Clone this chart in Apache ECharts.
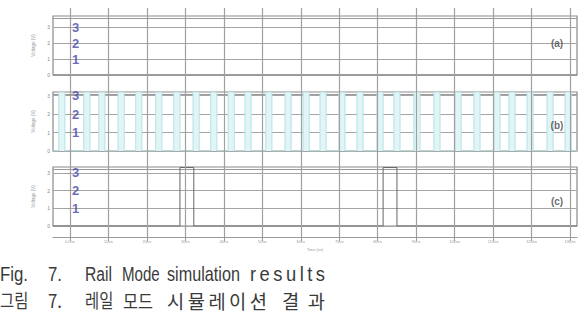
<!DOCTYPE html>
<html><head><meta charset="utf-8">
<script src="https://cdn.jsdelivr.net/npm/echarts@6/dist/echarts.min.js"></script>
<style>html,body{margin:0;padding:0;background:#fff}#c{width:583px;height:323px}</style>
</head><body><div id="c"></div>
<script>
// ---- data ----
const timeTicks = [0,10,20,30,40,50,60,70,80,90,100,110,120,130];
const timeTickLabels = ['0.0ns','10ns','20ns','30ns','40ns','50ns','60ns','70ns','80ns','90ns','100ns','110ns','120ns','130ns'];
const timeMin = -4.4, timeMax = 131.8;
const voltTicks = [0,1,2,3];
const levelLabels = [3,2,1];
const panelNames = ['(a)','(b)','(c)'];
const panelMax = [3.7, 3.2, 3.33];
const panelNamePos = [2.0, 1.4, 1.37];
// (a) constant low level
const aTimes = [-4.4, 131.8];
const aValues = [0, 0];
// (b) pulse train
const bStarts = [-2.9,3.6,7.5,12.5,17.1,22.3,27.0,32.0,36.6,41.1,45.5,50.9,55.9,60.6,65.0,69.9,74.6,79.8,84.2,89.4,94.6,100.1,105.0,110.2,114.1,118.8,124.0,128.7];
const bEnds   = [-1.3,5.2,9.1,14.1,18.7,23.9,28.6,33.6,38.2,42.7,47.1,52.5,57.5,62.2,66.6,71.5,76.2,81.4,85.8,91.0,96.2,101.7,106.6,111.8,115.7,120.4,125.6,130.3];
const bHigh = 3.2;
// (c) two pulses
const cStarts = [28.6, 81.4];
const cEnds = [32.2, 85.0];
const cHigh = 3.3;
// caption
const caption1 = ['Fig.','7.','Rail','Mode','simulation','results'];
const caption2 = ['그림','7.','레일','모드','시뮬레이션','결과'];

// ---- build ----
function pulses(starts, ends, high){
  const pts = [[timeMin,0]];
  for(let i=0;i<starts.length;i++){
    pts.push([starts[i],0],[starts[i],high],[ends[i],high],[ends[i],0]);
  }
  pts.push([timeMax,0]);
  return pts;
}
const panelTops = [16, 92, 167];
const panelH = 59;
const L = 53, R = 6;
const grids = [{left:L,right:R,top:8,bottom:86,show:false}];
const xAxes = [{
  gridIndex:0,type:'value',min:timeMin,max:timeMax,position:'bottom',
  axisLine:{show:true,lineStyle:{color:'#999',width:1}},
  axisTick:{show:true,customValues:timeTicks,length:4,lineStyle:{color:'#999'}},
  axisLabel:{show:true,customValues:timeTicks,fontSize:4,color:'#999',margin:2,
    formatter:v=>timeTickLabels[timeTicks.indexOf(v)] ?? ''},
  splitLine:{show:false},
  name:'Time (ns)',nameLocation:'middle',nameGap:9,nameTextStyle:{fontSize:4,color:'#999'}
}];
const yAxes = [{gridIndex:0,type:'value',min:0,max:1,show:false}];
const series = [{
  type:'line',xAxisIndex:0,yAxisIndex:0,data:[],silent:true,
  markLine:{silent:true,symbol:['none','none'],label:{show:false},
    lineStyle:{color:'#a0a0a0',width:1.2,type:'solid'},
    data:timeTicks.map(t=>({xAxis:t}))}
}];
for(let p=0;p<3;p++){
  const gi = p+1;
  grids.push({left:L,right:R,top:panelTops[p],height:panelH,show:true,borderColor:'#8a8a8a',borderWidth:1.2,backgroundColor:'transparent'});
  xAxes.push({gridIndex:gi,type:'value',min:timeMin,max:timeMax,position:'top',
    axisLine:{show:true,onZero:false,lineStyle:{color:'#9a9a9a',width:1}},
    offset:-2,axisTick:{show:false},axisLabel:{show:false},splitLine:{show:false}});
  yAxes.push({gridIndex:gi,type:'value',min:0,max:panelMax[p],interval:1,offset:-2,
    axisLine:{show:true,lineStyle:{color:'#9a9a9a',width:1}},
    axisTick:{show:true,customValues:voltTicks,length:2,lineStyle:{color:'#999'}},
    axisLabel:{show:true,customValues:voltTicks,fontSize:5,color:'#888',margin:5},
    splitLine:{show:true,lineStyle:{color:'#a5a5a5',width:1.2}},
    name:'Voltage (V)',nameLocation:'middle',nameGap:12,nameTextStyle:{fontSize:4.5,color:'#999'}});
  series.push({type:'scatter',xAxisIndex:gi,yAxisIndex:gi,symbolSize:0,silent:true,z:5,
    data:levelLabels.map(v=>[1.5,v]),
    label:{show:true,position:'inside',formatter:d=>String(d.value[1]),color:'#4545aa',fontWeight:'bold',fontSize:13,fontFamily:'Liberation Sans'}});
  series.push({type:'scatter',xAxisIndex:gi,yAxisIndex:gi,symbolSize:0,silent:true,z:5,
    data:[[126.6,panelNamePos[p]]],
    label:{show:true,position:'inside',formatter:()=>panelNames[p],color:'#444',fontWeight:'bold',fontSize:10,fontFamily:'Liberation Sans'}});
}
series.push({type:'line',xAxisIndex:1,yAxisIndex:1,showSymbol:false,silent:true,
  data:aTimes.map((t,i)=>[t,aValues[i]]),lineStyle:{color:'#777',width:1.2}});
series.push({type:'line',xAxisIndex:2,yAxisIndex:2,showSymbol:false,silent:true,
  data:pulses(bStarts,bEnds,bHigh),lineStyle:{color:'#b4e2e4',width:1},
  areaStyle:{color:'#e2f5f6',opacity:1},z:1});
series.push({type:'line',xAxisIndex:3,yAxisIndex:3,showSymbol:false,silent:true,
  data:pulses(cStarts,cEnds,cHigh),lineStyle:{color:'#666',width:1}});

// caption: justified text; each word partly widened, rest as letter spacing
const ctx = document.createElement('canvas').getContext('2d');
function words(list, lefts, widths, y, family, size, base){
  const out = [];
  const font = size+'px "'+family+'"';
  ctx.font = font;
  list.forEach((w,i)=>{
    const chars = Array.from(w);
    const raw = chars.map(c=>ctx.measureText(c).width);
    const rawTotal = raw.reduce((a,b)=>a+b,0) || 1;
    const sx = base*Math.min(1.12,Math.max(0.92,widths[i]/(rawTotal*base)));
    const cw = raw.map(v=>v*sx);
    const total = rawTotal*sx;
    const gap = chars.length>1 ? Math.max(0,(widths[i]-total)/(chars.length-1)) : 0;
    let x = lefts[i];
    chars.forEach((c,k)=>{
      out.push({type:'text',x:x,y:y,scaleX:sx,
        style:{text:c,x:0,y:0,fill:'#3a3a3a',font:font,verticalAlign:'middle',align:'left'}});
      x += cw[k]+gap;
    });
  });
  return out;
}
const g1 = words(caption1,[0,48,85,122,167,250],[28,14,27,35,73,75],274,'Liberation Sans',21,0.78);
const g2 = words(caption2,[0,48,85,123,167,282],[28,14,28,30,100,43],300,'Noto Sans CJK KR',19,0.88);

const chart = echarts.init(document.getElementById('c'),null,{renderer:'svg'});
chart.setOption({animation:false,backgroundColor:'#fff',grid:grids,xAxis:xAxes,yAxis:yAxes,series:series,graphic:g1.concat(g2)});
</script></body></html>
